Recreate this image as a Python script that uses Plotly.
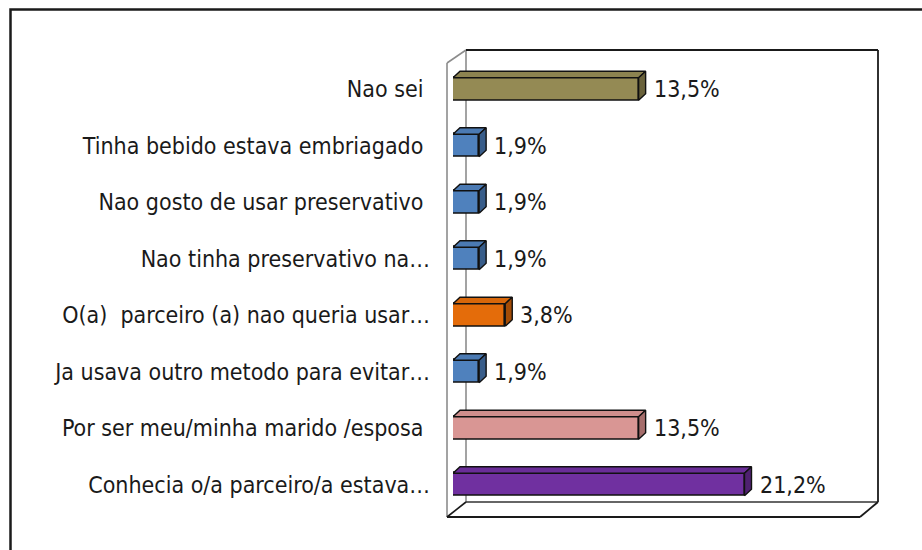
import plotly.graph_objects as go

# ---- data (bottom to top) ----
categories = [
    "Conhecia o/a parceiro/a estava…",
    "Por ser meu/minha marido /esposa\u00a0",
    "Ja usava outro metodo para evitar…",
    "O(a)\u00a0 parceiro (a) nao queria usar…",
    "Nao tinha preservativo na…",
    "Nao gosto de usar preservativo\u00a0",
    "Tinha bebido estava embriagado\u00a0",
    "Nao sei\u00a0",
]
values = [21.2, 13.5, 1.9, 3.8, 1.9, 1.9, 1.9, 13.5]
value_labels = ["21,2%", "13,5%", "1,9%", "3,8%", "1,9%", "1,9%", "1,9%", "13,5%"]
front_colors = ["#7030A0", "#D99694", "#4F81BD", "#E46C0A", "#4F81BD", "#4F81BD", "#4F81BD", "#948A54"]
side_colors = ["#4F2170", "#A66E6C", "#385D8A", "#A34C06", "#385D8A", "#385D8A", "#385D8A", "#6A623B"]
top_colors = ["#6A2D98", "#CF8E8C", "#4B7AB3", "#D8670A", "#4B7AB3", "#4B7AB3", "#4B7AB3", "#8C8350"]

W, H = 922, 550
FONT = "DejaVu Sans Condensed, sans-serif"
FSIZE = 23

# layout geometry (pixels)
x0_px, px_per_unit = 453.0, 13.75
xmax = 30.0
y_top_px, y_bot_px = 60.75, 512.75
n = len(categories)
cat_px = (y_bot_px - y_top_px) / n
dx = 7.0 / px_per_unit        # depth offset in data units (x)
dy = 6.5 / cat_px             # depth offset in data units (y)
bw = 0.40                     # bar thickness

fig = go.Figure()
ys = list(range(n))

# front faces
fig.add_trace(go.Bar(
    x=values, y=ys, orientation="h", width=bw,
    marker=dict(color=front_colors, line=dict(color="#111111", width=1.6)),
    hoverinfo="skip", showlegend=False,
))
# top and side faces
for i, v in enumerate(values):
    yt = i + bw / 2
    yb = i - bw / 2
    fig.add_trace(go.Scatter(
        x=[0, v, v + dx, dx, 0], y=[yt, yt, yt + dy, yt + dy, yt],
        fill="toself", fillcolor=top_colors[i], mode="lines",
        line=dict(color="#111111", width=1.4), hoverinfo="skip", showlegend=False))
    fig.add_trace(go.Scatter(
        x=[v, v + dx, v + dx, v, v], y=[yb, yb + dy, yt + dy, yt, yb],
        fill="toself", fillcolor=side_colors[i], mode="lines",
        line=dict(color="#111111", width=1.4), hoverinfo="skip", showlegend=False))

for i, v in enumerate(values):
    fig.add_annotation(x=v + dx, y=i, text=value_labels[i], showarrow=False,
                       xanchor="left", yanchor="middle", xshift=6,
                       font=dict(family=FONT, size=FSIZE, color="#1a1a1a"))

def px(x):
    return x / W
def py(y):
    return 1 - y / H

shapes = []
# outer border
shapes.append(dict(type="rect", xref="paper", yref="paper",
                   x0=px(10.5), x1=px(W + 20), y0=py(9.5), y1=py(H + 20),
                   line=dict(color="#1a1a1a", width=2.5), layer="below"))
gray = "#8c8c8c"
frame_lines = [
    ((466, 50), (466, 502), gray, 1.6),   # back-left vertical
    ((447, 63), (447, 517), gray, 1.6),   # front-left vertical
    ((447, 63), (466, 50), gray, 1.6),    # top-left diagonal
    ((466, 50), (878, 50), "#1a1a1a", 1.8),  # back top
    ((878, 50), (878, 502), "#1a1a1a", 1.8),  # back right
    ((466, 502), (878, 502), "#333333", 1.6),  # back floor
    ((447, 517), (860, 517), "#1a1a1a", 1.8),  # front floor
    ((447, 517), (466, 502), "#1a1a1a", 1.6),  # left floor diagonal
    ((860, 517), (878, 502), "#1a1a1a", 1.8),  # right floor diagonal
]
for (a, b, c, w) in frame_lines:
    shapes.append(dict(type="line", xref="paper", yref="paper",
                       x0=px(a[0]), y0=py(a[1]), x1=px(b[0]), y1=py(b[1]),
                       line=dict(color=c, width=w), layer="below"))

fig.update_layout(
    width=W, height=H, margin=dict(l=0, r=0, t=0, b=0, autoexpand=False),
    paper_bgcolor="white", plot_bgcolor="rgba(0,0,0,0)",
    shapes=shapes, bargap=0,
    xaxis=dict(range=[0, xmax], domain=[x0_px / W, (x0_px + xmax * px_per_unit) / W],
               showgrid=False, zeroline=False, showticklabels=False, showline=False,
               fixedrange=True, automargin=False),
    yaxis=dict(range=[-0.5, n - 0.5], domain=[1 - y_bot_px / H, 1 - y_top_px / H],
               tickmode="array", tickvals=ys, ticktext=categories,
               showgrid=False, zeroline=False, showline=False, ticks="",
               ticklabelstandoff=22, automargin=False,
               tickfont=dict(family=FONT, size=FSIZE, color="#1a1a1a"), fixedrange=True),
)

fig.write_html("out.html", config={"displayModeBar": False},
               post_script="document.body.style.margin='0';document.body.style.overflow='hidden';")
